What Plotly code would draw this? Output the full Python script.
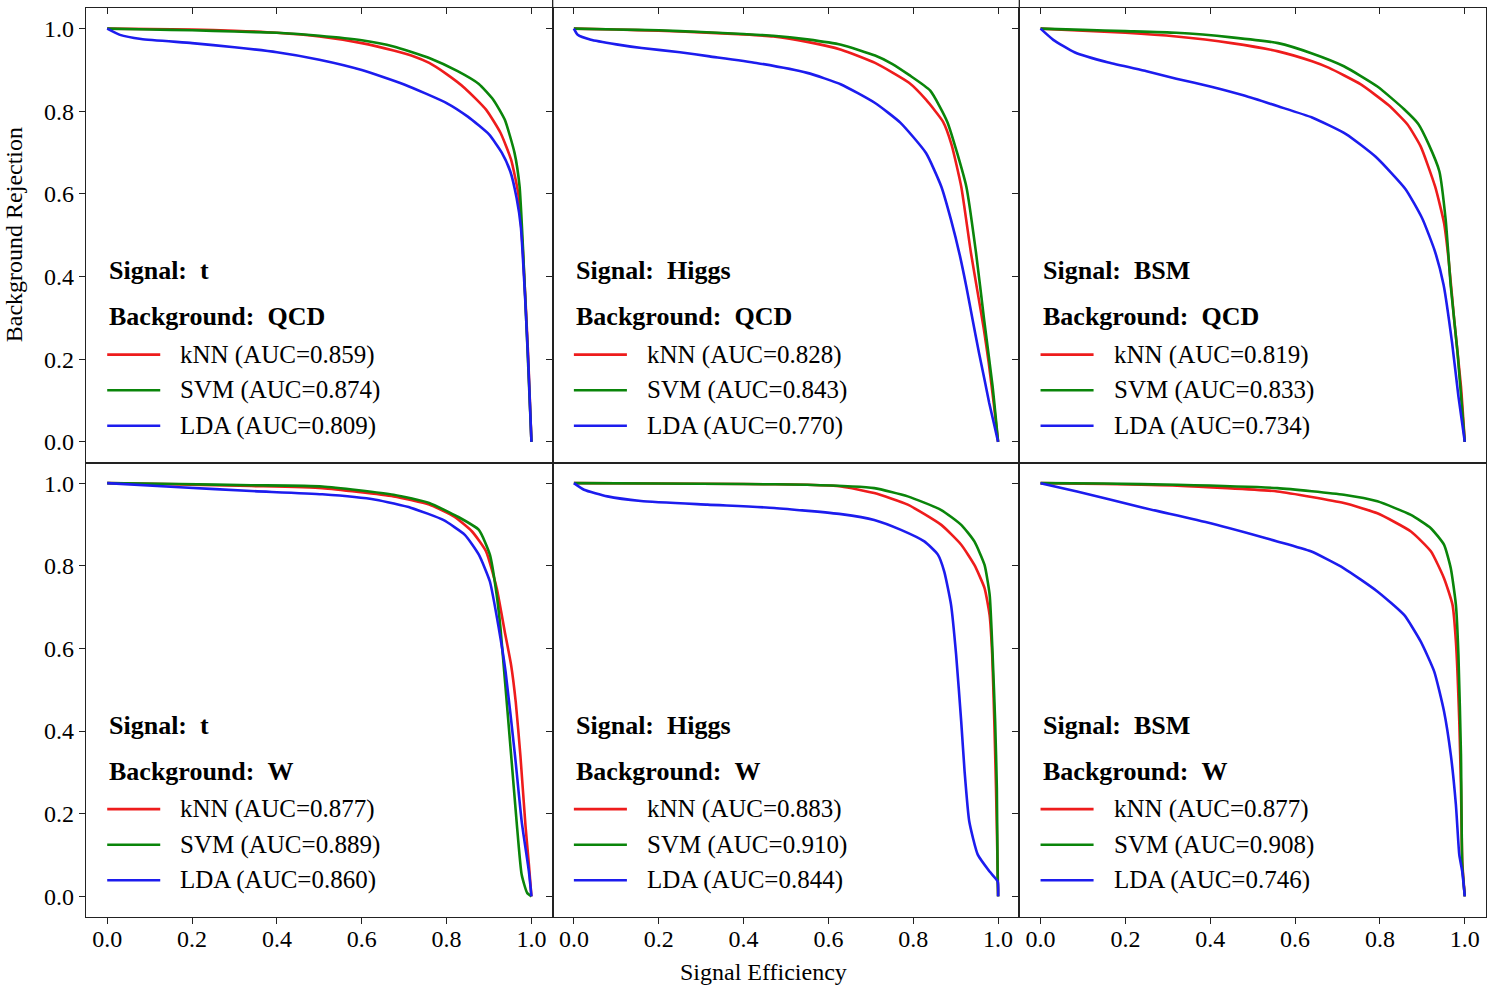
import plotly.graph_objects as go
from plotly.subplots import make_subplots

# ---------------- data ----------------
SIGNALS = ["t", "Higgs", "BSM"]
BACKGROUNDS = ["QCD", "W"]
METHODS = ["kNN", "SVM", "LDA"]
COLORS = {"kNN": "#ee1c1c", "SVM": "#0a850a", "LDA": "#1c1cee"}
TICKS = [0.0, 0.2, 0.4, 0.6, 0.8, 1.0]
TICK_LABELS = ["0.0", "0.2", "0.4", "0.6", "0.8", "1.0"]

AUC = {
    ("t", "QCD"): [0.859, 0.874, 0.809],
    ("Higgs", "QCD"): [0.828, 0.843, 0.770],
    ("BSM", "QCD"): [0.819, 0.833, 0.734],
    ("t", "W"): [0.877, 0.889, 0.860],
    ("Higgs", "W"): [0.883, 0.910, 0.844],
    ("BSM", "W"): [0.877, 0.908, 0.746],
}

# t vs QCD
EFF_T_QCD_KNN = [0, 0.1, 0.2, 0.3, 0.4, 0.5, 0.6, 0.675, 0.72, 0.759, 0.8, 0.843, 0.893, 0.927, 0.952, 0.969, 0.98, 0.992, 1.0]
REJ_T_QCD_KNN = [1, 0.999, 0.998, 0.995, 0.99, 0.981, 0.965, 0.947, 0.934, 0.917, 0.89, 0.856, 0.804, 0.748, 0.683, 0.6, 0.457, 0.215, 0.0]
EFF_T_QCD_SVM = [0, 0.1, 0.2, 0.3, 0.4, 0.5, 0.6, 0.675, 0.759, 0.826, 0.876, 0.91, 0.937, 0.96, 0.972, 0.98, 0.99, 1.0]
REJ_T_QCD_SVM = [1, 0.998, 0.996, 0.993, 0.99, 0.983, 0.972, 0.957, 0.929, 0.897, 0.866, 0.828, 0.78, 0.70, 0.618, 0.47, 0.24, 0.0]
EFF_T_QCD_LDA = [0, 0.03, 0.08, 0.2, 0.3, 0.4, 0.5, 0.6, 0.7, 0.8, 0.85, 0.9, 0.93, 0.95, 0.965, 0.975, 0.985, 0.993, 1.0]
REJ_T_QCD_LDA = [1, 0.985, 0.975, 0.965, 0.955, 0.943, 0.925, 0.9, 0.865, 0.82, 0.787, 0.744, 0.70, 0.655, 0.59, 0.52, 0.35, 0.18, 0.0]

# Higgs vs QCD
EFF_H_QCD_KNN = [0, 0.1, 0.2, 0.3, 0.4, 0.47, 0.55, 0.63, 0.71, 0.79, 0.83, 0.87, 0.89, 0.913, 0.936, 0.952, 0.966, 0.978, 0.99, 1.0]
REJ_H_QCD_KNN = [1, 0.998, 0.995, 0.991, 0.986, 0.981, 0.968, 0.949, 0.917, 0.869, 0.828, 0.775, 0.72, 0.618, 0.457, 0.36, 0.275, 0.19, 0.09, 0.0]
EFF_H_QCD_SVM = [0, 0.1, 0.2, 0.3, 0.4, 0.47, 0.55, 0.63, 0.71, 0.75, 0.79, 0.84, 0.88, 0.925, 0.948, 0.967, 0.987, 1.0]
REJ_H_QCD_SVM = [1, 0.998, 0.996, 0.992, 0.987, 0.983, 0.974, 0.961, 0.935, 0.915, 0.888, 0.85, 0.775, 0.618, 0.457, 0.296, 0.134, 0.0]
EFF_H_QCD_LDA = [0, 0.009, 0.04, 0.1, 0.16, 0.25, 0.32, 0.43, 0.55, 0.63, 0.71, 0.77, 0.83, 0.866, 0.889, 0.91, 0.925, 0.94, 0.955, 0.968, 0.979, 0.99, 1.0]
REJ_H_QCD_LDA = [1, 0.985, 0.973, 0.962, 0.953, 0.943, 0.933, 0.917, 0.893, 0.865, 0.82, 0.772, 0.699, 0.618, 0.537, 0.45, 0.376, 0.295, 0.215, 0.15, 0.094, 0.045, 0.0]

# BSM vs QCD
EFF_B_QCD_KNN = [0, 0.1, 0.2, 0.32, 0.45, 0.56, 0.64, 0.68, 0.755, 0.82, 0.865, 0.896, 0.93, 0.951, 0.962, 0.975, 0.991, 1.0]
REJ_B_QCD_KNN = [1, 0.995, 0.99, 0.981, 0.965, 0.945, 0.921, 0.905, 0.865, 0.815, 0.768, 0.715, 0.618, 0.53, 0.44, 0.296, 0.134, 0.0]
EFF_B_QCD_SVM = [0, 0.1, 0.2, 0.32, 0.45, 0.56, 0.64, 0.715, 0.794, 0.857, 0.89, 0.915, 0.94, 0.955, 0.967, 0.983, 1.0]
REJ_B_QCD_SVM = [1, 0.997, 0.994, 0.99, 0.979, 0.965, 0.94, 0.909, 0.86, 0.805, 0.77, 0.72, 0.655, 0.537, 0.376, 0.215, 0.0]
EFF_B_QCD_LDA = [0, 0.03, 0.08, 0.16, 0.25, 0.32, 0.4, 0.48, 0.56, 0.64, 0.72, 0.79, 0.86, 0.9, 0.93, 0.95, 0.97, 0.985, 1.0]
REJ_B_QCD_LDA = [1, 0.973, 0.943, 0.918, 0.897, 0.879, 0.86, 0.838, 0.812, 0.785, 0.745, 0.69, 0.612, 0.54, 0.46, 0.38, 0.24, 0.11, 0.0]

# t vs W
EFF_T_W_KNN = [0, 0.17, 0.34, 0.507, 0.675, 0.759, 0.818, 0.86, 0.893, 0.918, 0.937, 0.952, 0.963, 0.974, 0.986, 0.994, 1.0]
REJ_T_W_KNN = [1, 0.997, 0.993, 0.988, 0.968, 0.948, 0.919, 0.883, 0.835, 0.746, 0.641, 0.56, 0.47, 0.34, 0.17, 0.077, 0.0]
EFF_T_W_SVM = [0, 0.17, 0.34, 0.507, 0.675, 0.759, 0.826, 0.876, 0.902, 0.918, 0.927, 0.939, 0.952, 0.965, 0.977, 0.99, 1.0]
REJ_T_W_SVM = [1, 0.998, 0.995, 0.992, 0.972, 0.952, 0.919, 0.887, 0.827, 0.73, 0.649, 0.504, 0.343, 0.181, 0.052, 0.008, 0.0]
EFF_T_W_LDA = [0, 0.171, 0.339, 0.507, 0.633, 0.717, 0.792, 0.843, 0.876, 0.902, 0.923, 0.939, 0.961, 0.977, 0.994, 1.0]
REJ_T_W_LDA = [1, 0.99, 0.981, 0.973, 0.96, 0.94, 0.911, 0.875, 0.827, 0.762, 0.649, 0.544, 0.343, 0.181, 0.06, 0.0]

# Higgs vs W
EFF_H_W_KNN = [0, 0.2, 0.4, 0.55, 0.63, 0.708, 0.787, 0.866, 0.913, 0.944, 0.968, 0.98, 0.986, 0.991, 0.995, 0.999, 1.0]
REJ_H_W_KNN = [1, 0.999, 0.998, 0.996, 0.992, 0.976, 0.948, 0.899, 0.851, 0.802, 0.746, 0.68, 0.585, 0.423, 0.262, 0.06, 0.0]
EFF_H_W_SVM = [0, 0.2, 0.4, 0.55, 0.708, 0.787, 0.866, 0.913, 0.944, 0.968, 0.98, 0.987, 0.993, 0.997, 0.999, 1.0]
REJ_H_W_SVM = [1, 0.999, 0.998, 0.996, 0.988, 0.968, 0.935, 0.899, 0.859, 0.802, 0.73, 0.585, 0.423, 0.262, 0.036, 0.0]
EFF_H_W_LDA = [0, 0.024, 0.079, 0.158, 0.315, 0.472, 0.63, 0.708, 0.771, 0.826, 0.858, 0.873, 0.889, 0.901, 0.913, 0.921, 0.932, 0.952, 0.98, 0.999, 1.0]
REJ_H_W_LDA = [1, 0.984, 0.968, 0.957, 0.948, 0.94, 0.925, 0.911, 0.887, 0.859, 0.827, 0.786, 0.706, 0.585, 0.423, 0.302, 0.181, 0.101, 0.06, 0.036, 0.0]

# BSM vs W
EFF_B_W_KNN = [0, 0.15, 0.322, 0.558, 0.715, 0.794, 0.873, 0.92, 0.951, 0.971, 0.979, 0.987, 0.991, 0.994, 1.0]
REJ_B_W_KNN = [1, 0.998, 0.994, 0.98, 0.952, 0.927, 0.883, 0.835, 0.77, 0.706, 0.617, 0.423, 0.262, 0.085, 0.0]
EFF_B_W_SVM = [0, 0.15, 0.322, 0.558, 0.715, 0.794, 0.873, 0.92, 0.951, 0.967, 0.979, 0.985, 0.991, 0.994, 1.0]
REJ_B_W_SVM = [1, 0.999, 0.996, 0.988, 0.972, 0.956, 0.923, 0.891, 0.851, 0.794, 0.706, 0.585, 0.343, 0.077, 0.0]
EFF_B_W_LDA = [0, 0.086, 0.244, 0.401, 0.558, 0.637, 0.715, 0.794, 0.857, 0.896, 0.928, 0.951, 0.967, 0.979, 0.987, 0.994, 1.0]
REJ_B_W_LDA = [1, 0.98, 0.94, 0.903, 0.859, 0.835, 0.794, 0.738, 0.681, 0.617, 0.544, 0.448, 0.343, 0.222, 0.101, 0.06, 0.0]

CURVES = {
    ("t", "QCD"): [(EFF_T_QCD_KNN, REJ_T_QCD_KNN), (EFF_T_QCD_SVM, REJ_T_QCD_SVM), (EFF_T_QCD_LDA, REJ_T_QCD_LDA)],
    ("Higgs", "QCD"): [(EFF_H_QCD_KNN, REJ_H_QCD_KNN), (EFF_H_QCD_SVM, REJ_H_QCD_SVM), (EFF_H_QCD_LDA, REJ_H_QCD_LDA)],
    ("BSM", "QCD"): [(EFF_B_QCD_KNN, REJ_B_QCD_KNN), (EFF_B_QCD_SVM, REJ_B_QCD_SVM), (EFF_B_QCD_LDA, REJ_B_QCD_LDA)],
    ("t", "W"): [(EFF_T_W_KNN, REJ_T_W_KNN), (EFF_T_W_SVM, REJ_T_W_SVM), (EFF_T_W_LDA, REJ_T_W_LDA)],
    ("Higgs", "W"): [(EFF_H_W_KNN, REJ_H_W_KNN), (EFF_H_W_SVM, REJ_H_W_SVM), (EFF_H_W_LDA, REJ_H_W_LDA)],
    ("BSM", "W"): [(EFF_B_W_KNN, REJ_B_W_KNN), (EFF_B_W_SVM, REJ_B_W_SVM), (EFF_B_W_LDA, REJ_B_W_LDA)],
}

# ---------------- figure ----------------
FONT = "Liberation Serif, Times New Roman, serif"
FS = 24
FS_BOLD = 26

fig = make_subplots(rows=2, cols=3, horizontal_spacing=0, vertical_spacing=0)

for r, bkg in enumerate(BACKGROUNDS, start=1):
    for c, sig in enumerate(SIGNALS, start=1):
        for m, (xs, ys) in zip(METHODS, CURVES[(sig, bkg)]):
            fig.add_trace(
                go.Scatter(x=xs, y=ys, mode="lines", name=m,
                           line=dict(color=COLORS[m], width=2.6, shape="spline", smoothing=0.5),
                           showlegend=False, hoverinfo="skip"),
                row=r, col=c)

        idx = (r - 1) * 3 + c
        xref = "x" if idx == 1 else f"x{idx}"
        yref = "y" if idx == 1 else f"y{idx}"
        fig.add_annotation(x=0.0, y=0.414, xref=xref, yref=yref, xanchor="left", yanchor="middle",
                           text=f"<b>Signal:&nbsp;&nbsp;{sig}</b>", showarrow=False,
                           font=dict(family=FONT, size=FS_BOLD, color="black"))
        fig.add_annotation(x=0.0, y=0.303, xref=xref, yref=yref, xanchor="left", yanchor="middle",
                           text=f"<b>Background:&nbsp;&nbsp;{bkg}</b>", showarrow=False,
                           font=dict(family=FONT, size=FS_BOLD, color="black"))
        for m, auc, ly in zip(METHODS, AUC[(sig, bkg)], [0.211, 0.125, 0.039]):
            fig.add_shape(type="line", x0=0.0, x1=0.125, y0=ly, y1=ly, xref=xref, yref=yref,
                          line=dict(color=COLORS[m], width=2.6))
            fig.add_annotation(x=0.168, y=ly, xref=xref, yref=yref, xanchor="left", yanchor="middle",
                               text=f"{m} (AUC={auc:.3f})", showarrow=False,
                               font=dict(family=FONT, size=FS + 1, color="black"))

        xa = dict(range=[-0.05, 1.05], tickvals=TICKS, ticktext=TICK_LABELS,
                  showgrid=False, zeroline=False, showline=True, linecolor="#222",
                  linewidth=1.3, mirror=True, tickcolor="#222", ticklen=6, tickwidth=1.2,
                  tickfont=dict(family=FONT, size=FS, color="black"))
        if r == 1:
            xa.update(side="top", ticks="inside", showticklabels=False)
        else:
            xa.update(ticks="outside", showticklabels=True, ticklen=6, ticklabelstandoff=-6)
        fig.update_xaxes(row=r, col=c, **xa)

        ya = dict(range=[-0.05, 1.05], tickvals=TICKS, ticktext=TICK_LABELS,
                  showgrid=False, zeroline=False, showline=True, linecolor="#222",
                  linewidth=1.3, mirror=True, ticks="outside", tickcolor="#222",
                  ticklen=6, tickwidth=1.2, showticklabels=(c == 1),
                  tickfont=dict(family=FONT, size=FS, color="black"))
        fig.update_yaxes(row=r, col=c, **ya)

# dividers extend slightly above the top frame
for xp in [1 / 3, 2 / 3]:
    fig.add_shape(type="line", xref="paper", yref="paper", x0=xp, x1=xp, y0=1.0, y1=1.0 + 8 / 909,
                  line=dict(color="#222", width=1.3))

fig.add_annotation(x=0.5, y=0.0, xref="paper", yref="paper", xshift=-23, yshift=-55,
                   xanchor="center", yanchor="middle",
                   text="Signal Efficiency", showarrow=False, font=dict(family=FONT, size=FS, color="black"))
fig.add_annotation(x=0.0, y=0.75, xref="paper", yref="paper", xshift=-72, xanchor="center", yanchor="middle",
                   text="Background Rejection", textangle=-90, showarrow=False,
                   font=dict(family=FONT, size=FS, color="black"))

fig.update_layout(width=1488, height=988, margin=dict(l=86, r=2, t=8, b=71),
                  paper_bgcolor="white", plot_bgcolor="white", showlegend=False)

fig.write_html("out.html")
